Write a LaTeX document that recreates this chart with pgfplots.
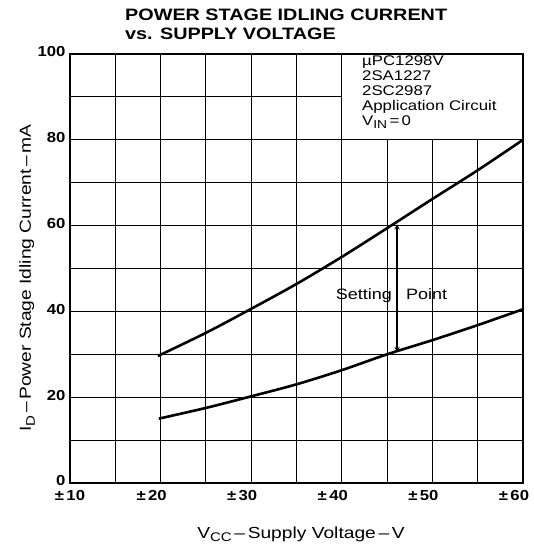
\documentclass[border=0pt]{standalone}
\usepackage{fontspec}
\setmainfont{Liberation Sans}[FakeStretch=1.2]
\newfontfamily\tickfont{Liberation Sans Bold}[FakeStretch=1.15]
\newfontfamily\titlefont{Liberation Sans Bold}[FakeStretch=1.2]
\usepackage{pgfplots}
\pgfplotsset{compat=1.18}
\begin{document}
\begin{tikzpicture}
\begin{axis}[
  at={(0pt,0pt)}, anchor=south west,
  scale only axis, width=453pt, height=429pt,
  xmin=10, xmax=60, ymin=0, ymax=100,
  xtick={10,20,30,40,50,60},
  xticklabels={\kern18pt±\,10,±\,20,±\,30,±\,40,±\,50,±\,60},
  minor xtick={15,25,35,45,55},
  ytick={0,20,40,60,80,100},
  yticklabels={0,20,40,60,80,100},
  minor ytick={10,30,50,70,90},
  grid=both,
  major grid style={black, line width=1.15pt},
  minor grid style={black, line width=1.15pt},
  major tick length=0pt, minor tick length=0pt,
  axis line style={line width=2pt},
  tick label style={font=\tickfont\fontsize{14.5}{17}\selectfont},
  xticklabel style={yshift=-4pt, xshift=-9pt},
  yticklabel style={xshift=-1pt, yshift=2pt},
  clip=false,
]
\fill[white] (axis cs:40,80) rectangle (axis cs:60,100);
\draw[line width=1.2pt] (axis cs:40,100) -- (axis cs:40,80) -- (axis cs:60,80);
\draw[line width=2pt] (axis cs:40,100) -- (axis cs:60,100) -- (axis cs:60,80);
\addplot[black, line width=2.6pt, smooth] coordinates {
 (19.7,29.6) (25,35.0) (30,40.6) (35,46.4) (40,52.7) (45,59.4) (50,66.2) (55,72.9) (60,80.0)};
\addplot[black, line width=2.6pt, smooth] coordinates {
 (19.8,15.0) (25,17.5) (30,20.2) (35,23.0) (40,26.3) (45,30.0) (50,33.3) (55,36.8) (60,40.5)};
\draw[line width=1.3pt, <->, >=stealth] (axis cs:46.1,60.3) -- (axis cs:46.1,30.5);
\end{axis}
\node[anchor=north west, align=left, inner sep=0pt, font=\titlefont\fontsize{16.5}{19}\selectfont]
  at (55pt,474pt) {POWER STAGE IDLING CURRENT\\vs. SUPPLY VOLTAGE};
\node[anchor=north west, align=left, inner sep=0pt, font=\fontsize{14}{15}\selectfont]
  at (292pt,427pt) {µPC1298V\\2SA1227\\2SC2987\\Application Circuit\\V\raisebox{-0.4ex}{\fontsize{11.5}{11.5}\selectfont IN}\,=\,0};
\node[anchor=base east, inner sep=0pt, font=\fontsize{15}{18}\selectfont] at (322pt,183pt) {Setting};
\node[anchor=base west, inner sep=0pt, font=\fontsize{15}{18}\selectfont] at (336pt,183pt) {Point};
\node[anchor=base, inner sep=0pt, font=\fontsize{16}{19}\selectfont] at (231pt,-55pt)
  {V\raisebox{-0.45ex}{\fontsize{12.5}{12.5}\selectfont CC}\,–\,Supply Voltage\,–\,V};
\node[anchor=base, rotate=90, inner sep=0pt, font=\fontsize{16}{19}\selectfont] at (-39pt,205pt)
  {I\raisebox{-0.45ex}{\fontsize{12.5}{12.5}\selectfont D}\,–\,Power Stage Idling Current\,–\,mA};
\pgfresetboundingbox
\path (-70pt,-61pt) rectangle (464pt,483pt);
\end{tikzpicture}
\end{document}
